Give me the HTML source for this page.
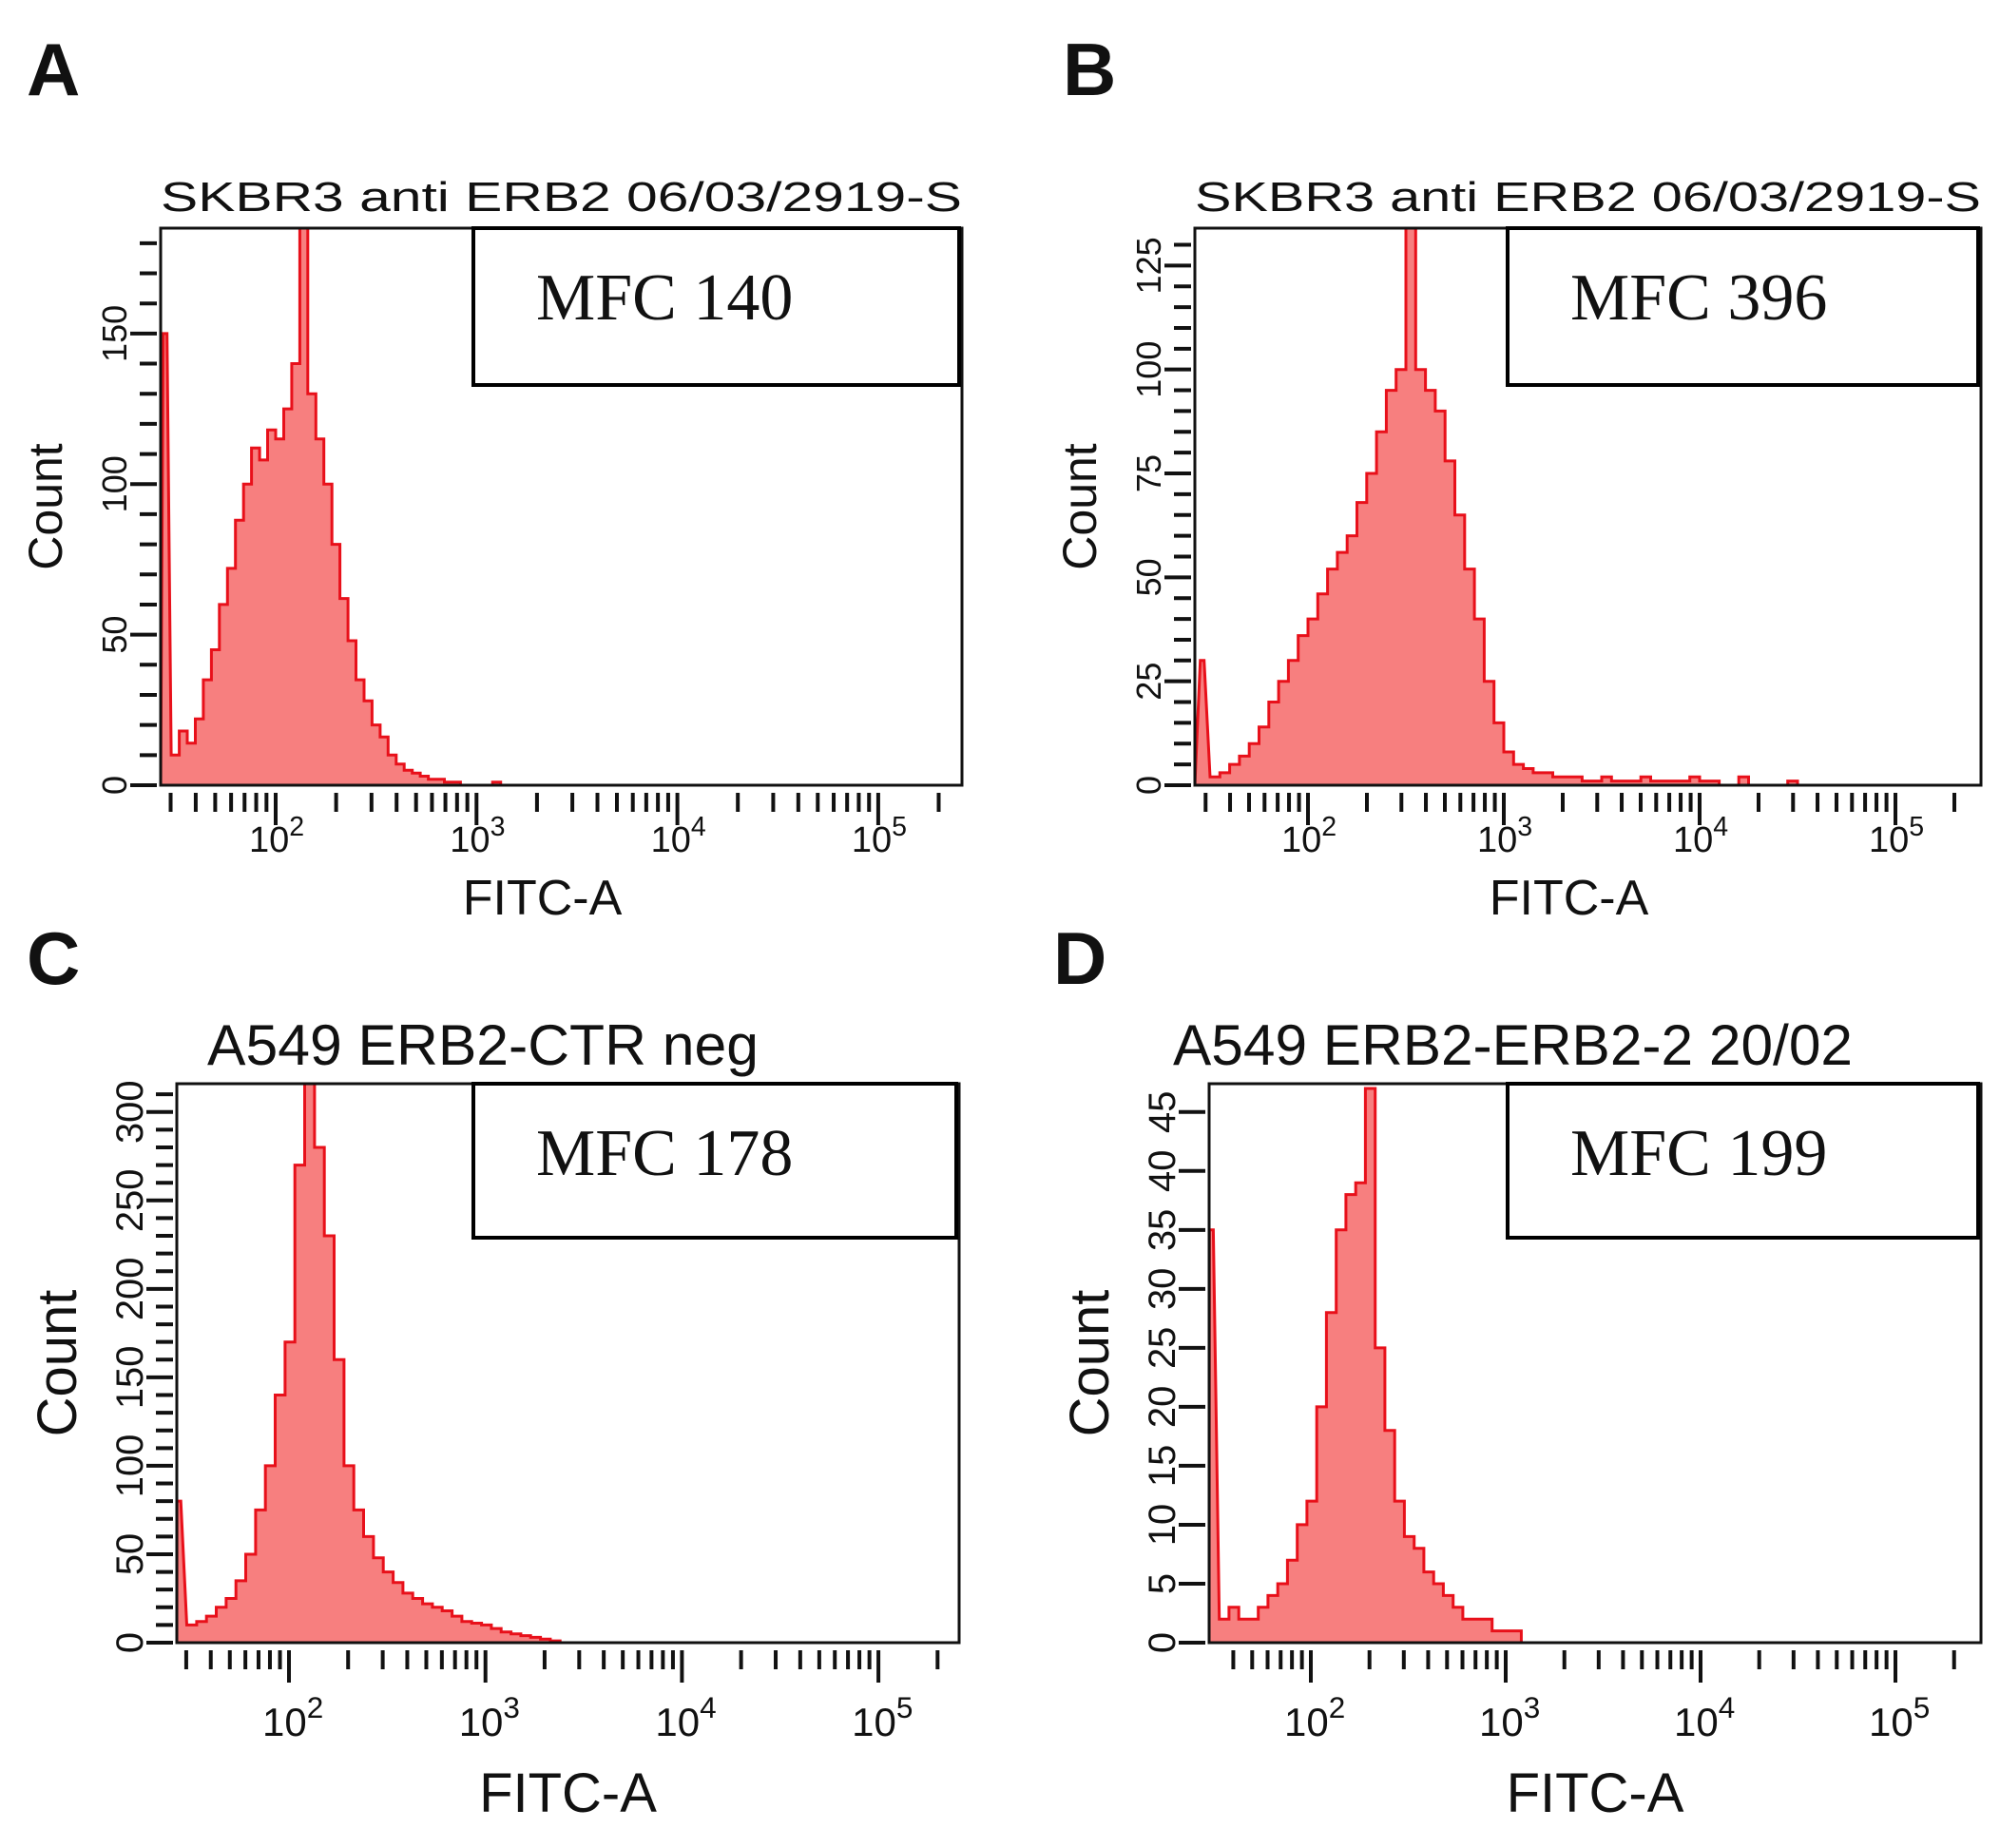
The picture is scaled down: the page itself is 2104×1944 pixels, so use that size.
<!DOCTYPE html>
<html><head><meta charset="utf-8">
<style>
html,body{margin:0;padding:0;background:#fff;}
svg{display:block;}
text{font-family:"Liberation Sans",sans-serif;fill:#111;}
</style></head>
<body>
<svg id="fig" width="2104" height="1944" viewBox="0 0 2104 1944" xmlns="http://www.w3.org/2000/svg"></svg>
<script>
// ---- data (counts per log bin) ----
const aStart = 1.44, aStep = 0.04;
const aCounts = [150,10,18,14,22,35,45,60,72,88,100,112,108,118,115,125,140,185,130,115,100,80,62,48,35,28,20,16,10,7,5,4,3,2,2,1,1,0,0,0,0,1,0];
const bStart = 1.45, bStep = 0.05;
const bCounts = [30,2,3,5,7,10,14,20,25,30,36,40,46,52,56,60,68,75,85,95,100,134,100,95,90,78,65,52,40,25,15,8,5,4,3,3,2,2,2,1,1,2,1,1,1,2,1,1,1,1,2,1,1,0,0,2,0,0,0,0,1,0];
const cStart = 1.43, cStep = 0.05;
const cCounts = [80,10,12,15,20,25,35,50,75,100,140,170,270,316,280,230,160,100,75,60,48,40,34,28,25,22,20,18,15,12,11,10,8,6,5,4,3,2,1,0];
const dStart = 1.48, dStep = 0.05;
const dCounts = [35,2,3,2,2,3,4,5,7,10,12,20,28,35,38,39,47,25,18,12,9,8,6,5,4,3,2,2,2,1,1,1,0];
const xTickExps = [2,3,4,5];
const aYTicks = [0,50,100,150];
const bYTicks = [0,25,50,75,100,125];
const cYTicks = [0,50,100,150,200,250,300];
const dYTicks = [0,5,10,15,20,25,30,35,40,45];

const NS = "http://www.w3.org/2000/svg";
const svg = document.getElementById('fig');
function mk(tag, attrs, parent, txt){
  const e = document.createElementNS(NS, tag);
  for (const k in attrs) e.setAttribute(k, attrs[k]);
  if (txt !== undefined) e.textContent = txt;
  (parent||svg).appendChild(e);
  return e;
}

const panels = [
 {id:'a', letter:'A', lx:28, ly:100, title:'SKBR3 anti ERB2 06/03/2919-S', tx:169, ty:222, tfs:44, tlen:843,
  L:169,R:1012,T:240,B:826, x2:290, dec:211.3, ymax:185, yt:aYTicks, minor:10, counts:aCounts, start:aStart, step:aStep,
  mfcL:498, mfcB:405, mfc:'MFC 140', mfs:70, cfs:50, xfs:52, tickFs:38, tly:896, xly:962},
 {id:'b', letter:'B', lx:1118, ly:100, title:'SKBR3 anti ERB2 06/03/2919-S', tx:1257, ty:222, tfs:44, tlen:827,
  L:1257,R:2084,T:240,B:826, x2:1376, dec:206, ymax:134, yt:bYTicks, minor:5, counts:bCounts, start:bStart, step:bStep,
  mfcL:1586, mfcB:405, mfc:'MFC 396', mfs:70, cfs:50, xfs:52, tickFs:38, tly:896, xly:962},
 {id:'c', letter:'C', lx:28, ly:1035, title:'A549 ERB2-CTR neg', tx:218, ty:1120, tfs:60, tlen:580,
  L:186,R:1009,T:1140,B:1728, x2:304, dec:206.7, ymax:316, yt:cYTicks, minor:10, counts:cCounts, start:cStart, step:cStep,
  mfcL:498, mfcB:1302, mfc:'MFC 178', mfs:70, cfs:58, xfs:58, tickFs:42, tly:1826, xly:1906},
 {id:'d', letter:'D', lx:1108, ly:1035, title:'A549 ERB2-ERB2-2 20/02', tx:1234, ty:1120, tfs:60, tlen:715,
  L:1272,R:2084,T:1140,B:1728, x2:1379, dec:205, ymax:47.4, yt:dYTicks, minor:5, counts:dCounts, start:dStart, step:dStep,
  mfcL:1586, mfcB:1302, mfc:'MFC 199', mfs:70, cfs:58, xfs:58, tickFs:42, tly:1826, xly:1906}
];

panels.forEach(p=>{
  const g = mk('g',{});
  
  
  const xs = v => p.x2 + (v-2)*p.dec;
  const ys = v => p.B - v/p.ymax*(p.B-p.T);
  const logMin = 2 - (p.x2-p.L)/p.dec, logMax = 2 + (p.R-p.x2)/p.dec;

  const lt = mk('text',{x:p.lx,y:p.ly,'font-size':78,'font-weight':'bold'},g,p.letter);
  
  
  const tt = mk('text',{x:p.tx,y:p.ty,'font-size':p.tfs,textLength:p.tlen,lengthAdjust:'spacingAndGlyphs'},g,p.title);
  
  

  // histogram
  let d = 'M'+p.L+','+p.B;
  p.counts.forEach((c,i)=>{
    let x0 = Math.max(p.L, xs(p.start + i*p.step)), x1 = Math.min(p.R, xs(p.start + (i+1)*p.step));
    if (i===0){ x1 = x0 + 4; }
    const y = ys(Math.min(c,p.ymax));
    d += ' L'+x0.toFixed(1)+','+y.toFixed(1)+' L'+x1.toFixed(1)+','+y.toFixed(1);
  });
  const lastX = Math.min(p.R, xs(p.start + p.counts.length*p.step));
  d += ' L'+lastX.toFixed(1)+','+p.B+' Z';
  const h = mk('path',{d:d,fill:'#f77f7f',stroke:'#e8101a','stroke-width':3,'stroke-linejoin':'miter'},g);
  
  

  // frame
  const fr = mk('rect',{x:p.L,y:p.T,width:p.R-p.L,height:p.B-p.T,fill:'none',stroke:'#111','stroke-width':3},g);
  
  

  // mfc box
  const mb = mk('rect',{x:p.mfcL,y:p.T,width:p.R-p.mfcL-3,height:p.mfcB-p.T,fill:'#fff',stroke:'#000','stroke-width':4},g);
  
  
  const mt = mk('text',{x:p.mfcL+66,y:p.T+96,'font-size':p.mfs,style:'font-family:"Liberation Serif",serif'},g,p.mfc);
  
  

  // x ticks
  for (let e=1;e<=5;e++){
    for (let m=1;m<10;m++){
      const lv = e + Math.log10(m);
      if (lv < logMin+0.02 || lv > logMax) continue;
      const x = xs(lv);
      const major = m===1;
      mk('line',{x1:x,y1:p.B+8,x2:x,y2:p.B+(major?42:28),stroke:'#111','stroke-width':4},g);
    }
  }
  xTickExps.forEach(e=>{
    const x = xs(e);
    const t = mk('text',{x:x-28,y:p.tly,'font-size':p.tickFs},g);
    
    
    mk('tspan',{},t,'10');
    mk('tspan',{dy:-p.tickFs*0.45,'font-size':p.tickFs*0.75},t,String(e));
  });
  const xl = mk('text',{x:(p.L+p.R)/2 - (p.id==='a'||p.id==='b'?20:0),y:p.xly,'font-size':p.xfs,'text-anchor':'middle'},g,'FITC-A');
  
  

  // y ticks
  for (let v=0; v<=p.ymax; v+=p.minor){
    const y = ys(v);
    const major = p.yt.indexOf(v)>=0;
    mk('line',{x1:p.L-(major?32:22),y1:y,x2:p.L-4,y2:y,stroke:'#111','stroke-width':4},g);
  }
  p.yt.forEach(v=>{
    const y = ys(v);
    const t = mk('text',{transform:'translate('+(p.L-36)+','+y+') rotate(-90)','font-size':p.tickFs*0.95,'text-anchor':'middle'},g,String(v));
    
    
  });
  const cy = (p.T+p.B)/2;
  const yl = mk('text',{transform:'translate('+(p.L-(p.id==='c'||p.id==='d'?106:104))+','+cy+') rotate(-90)','font-size':p.cfs,'text-anchor':'middle'},g,'Count');
  
  
});
</script>
</body></html>
